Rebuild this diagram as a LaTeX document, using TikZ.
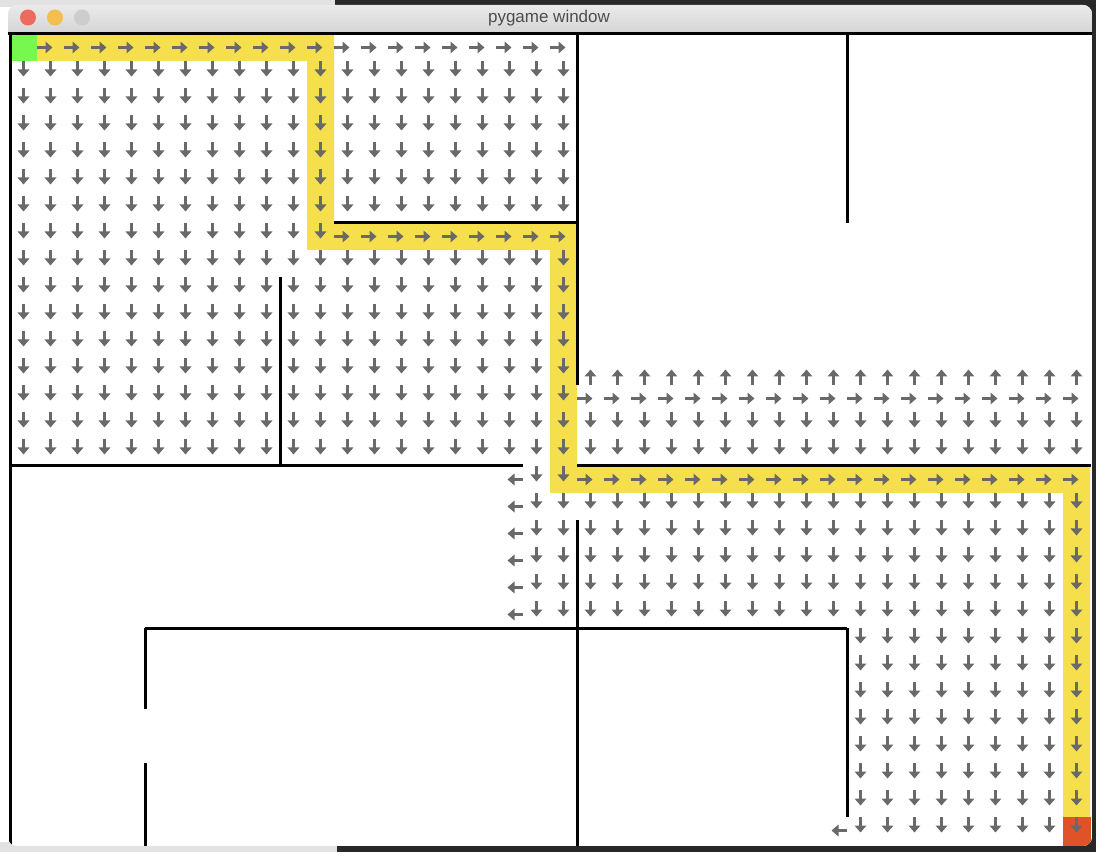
\documentclass[tikz,border=0pt]{standalone}
\usepackage{fontspec}
\setmainfont{Liberation Sans}
\usetikzlibrary{arrows.meta}
\definecolor{pathyellow}{RGB}{245,223,77}
\definecolor{startgreen}{RGB}{118,248,78}
\definecolor{goalred}{RGB}{224,82,40}
\definecolor{arrowgray}{RGB}{105,105,105}
\definecolor{lightback}{RGB}{226,226,226}
\definecolor{darkback}{RGB}{40,40,40}
\definecolor{titletop}{RGB}{234,234,234}
\definecolor{titlebot}{RGB}{213,213,213}
\definecolor{titletext}{RGB}{77,77,77}
\definecolor{tlred}{RGB}{236,106,94}
\definecolor{tlyellow}{RGB}{244,190,79}
\definecolor{tlgray}{RGB}{205,205,205}
\tikzset{
  arrowline/.style={draw=arrowgray, line width=3pt, -{Triangle[length=7pt,width=11.5pt]}},
  wall/.style={draw=black, line width=3pt},
}
\newcommand\arrR[2]{\draw[arrowline] ({23.5+27*#2-13.5},{47.5+27*#1}) -- ++(15.5,0);}
\newcommand\arrL[2]{\draw[arrowline] ({23.5+27*#2+13.5},{47.5+27*#1}) -- ++(-15.5,0);}
\newcommand\arrD[2]{\draw[arrowline] ({23.5+27*#2},{47.5+27*#1-13.5}) -- ++(0,15.5);}
\newcommand\arrU[2]{\draw[arrowline] ({23.5+27*#2},{47.5+27*#1+13.5}) -- ++(0,-15.5);}
\begin{document}
\begin{tikzpicture}[x=1pt,y=-1pt]
\useasboundingbox (0,0) rectangle (1096,858);
% backdrop
\fill[white] (0,0) rectangle (1096,858);
\fill[lightback] (0,0) rectangle (335,7);
\fill[darkback] (335,0) rectangle (1096,7);
\fill[darkback] (1089,0) rectangle (1096,852);
\fill[lightback] (0,842) rectangle (337,852);
\fill[darkback] (337,842) rectangle (1096,852);
% window
\begin{scope}
\clip[rounded corners=9pt] (8,5) rectangle (1092,846);
\fill[white] (8,5) rectangle (1092,846);
\shade[top color=titletop,bottom color=titlebot] (8,5) rectangle (1092,33);
% path
\fill[pathyellow] (37,34) -- (334,34) -- (334,223) -- (577,223) -- (577,466)
  -- (1090,466) -- (1090,817) -- (1063,817) -- (1063,493) -- (550,493)
  -- (550,250) -- (307,250) -- (307,61) -- (37,61) -- cycle;
\fill[startgreen] (10,34) rectangle (37,61);
\fill[goalred] (1063,817) rectangle (1091,846);
% walls
\draw[wall] (8,34) -- (1092,34);
\draw[wall] (10,34) -- (10,846);
\draw[wall] (334,223) -- (577,223);
\draw[wall] (577,34) -- (577,385);
\draw[wall] (847,34) -- (847,223);
\draw[wall] (10,466) -- (523,466);
\draw[wall] (577,466) -- (1091,466);
\draw[wall] (280,277) -- (280,466);
\draw[wall] (577,520) -- (577,846);
\draw[wall] (145,628) -- (847,628);
\draw[wall] (145,628) -- (145,709);
\draw[wall] (145,763) -- (145,846);
\draw[wall] (847,628) -- (847,817);
% arrows
\foreach \c in {1,...,20} {\arrR{0}{\c}}
\foreach \r in {1,...,6} {\foreach \c in {0,...,20} {\arrD{\r}{\c}}}
\foreach \c in {0,...,11} {\arrD{7}{\c}}
\foreach \c in {12,...,20} {\arrR{7}{\c}}
\foreach \r in {8,...,15} {\foreach \c in {0,...,20} {\arrD{\r}{\c}}}
\foreach \c in {21,...,39} {\arrU{12}{\c}}
\foreach \c in {21,...,39} {\arrR{13}{\c}}
\foreach \r in {14,15} {\foreach \c in {21,...,39} {\arrD{\r}{\c}}}
\foreach \c in {21,...,39} {\arrR{16}{\c}}
\arrD{16}{19} \arrD{16}{20}
\foreach \r in {16,...,21} {\arrL{\r}{18}}
\foreach \r in {17,...,21} {\foreach \c in {19,...,39} {\arrD{\r}{\c}}}
\foreach \r in {22,...,29} {\foreach \c in {31,...,39} {\arrD{\r}{\c}}}
\arrL{29}{30}
\end{scope}
% title bar
\fill[tlred] (28,17.5) circle[radius=8pt];
\fill[tlyellow] (55,17.5) circle[radius=8pt];
\fill[tlgray] (82,17.5) circle[radius=8pt];
\node[font=\fontsize{17}{20}\selectfont, text=titletext, inner sep=0pt] (title) at (549,18) {pygame window};
\end{tikzpicture}
\end{document}
